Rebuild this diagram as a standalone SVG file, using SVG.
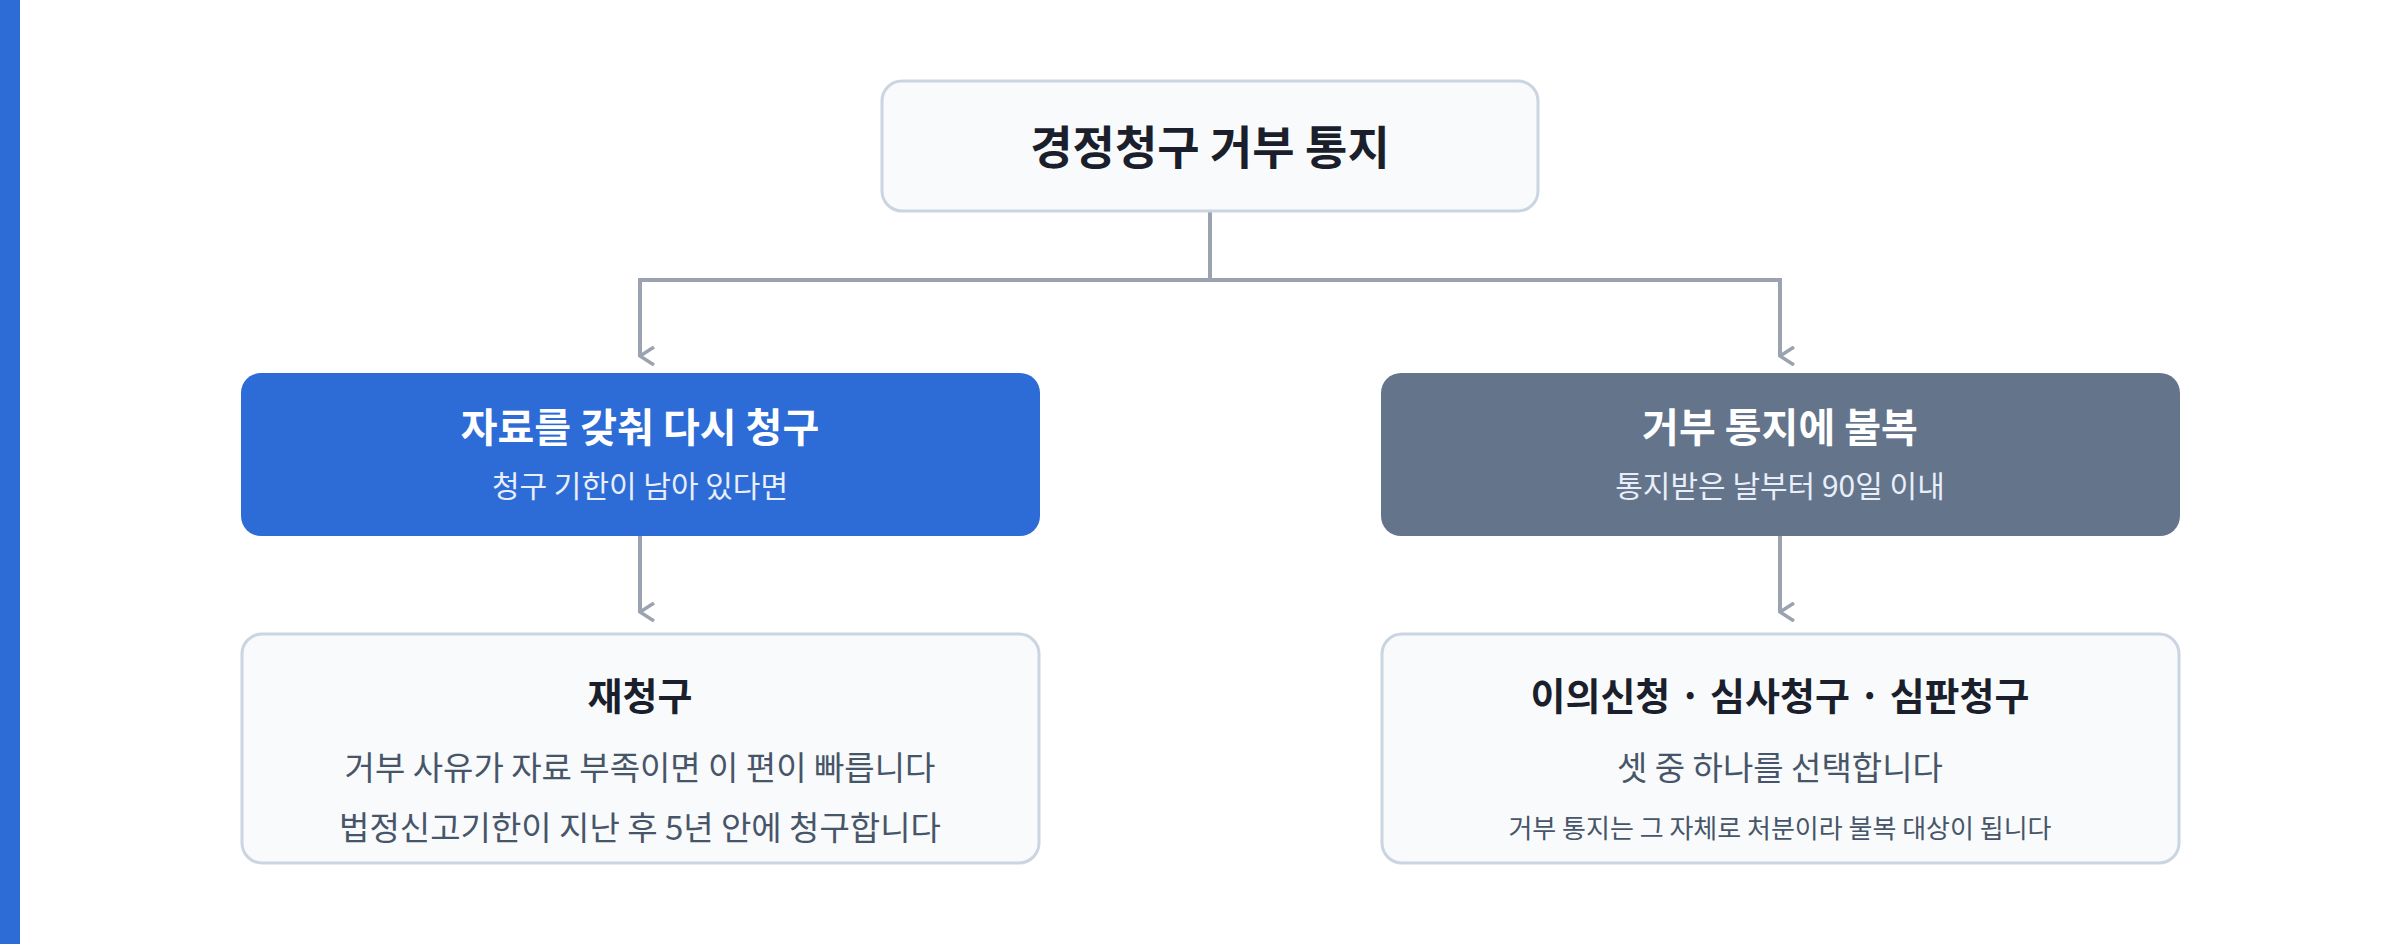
<svg xmlns="http://www.w3.org/2000/svg" width="2400" height="944" viewBox="0 0 2400 944">
<defs>
<style>
text{font-family:"Noto Sans CJK KR","Noto Sans",sans-serif;text-anchor:middle}
.light{fill:#f8fafc;stroke:#cbd5e1;stroke-width:3}
.t{font-weight:700;fill:#1a1f2b}
.w{font-weight:700;fill:#ffffff}
.ws{fill:#e8eefa;font-size:30px}
.b{fill:#475569}
.c{fill:none;stroke:#9aa3af;stroke-width:4}
</style>
<marker id="ah" viewBox="0 0 20 20" refX="10" refY="18" markerWidth="20" markerHeight="20" markerUnits="userSpaceOnUse" orient="auto-start-reverse">
<path d="M1 4 L10 18 L19 4" fill="none" stroke="#9aa3af" stroke-width="3.5"/>
</marker>
</defs>
<rect width="2400" height="944" fill="#ffffff"/>
<rect x="0" y="0" width="20" height="944" fill="#2d6cd6"/>
<g id="connectors">
<path class="c" d="M1210 211 V280"/>
<path class="c" d="M640 356 V280 H1780 V356" marker-end="url(#ah)"/>
<path class="c" d="M640 290 V356" marker-end="url(#ah)"/>
<path class="c" d="M640 536 V612" marker-end="url(#ah)"/>
<path class="c" d="M1780 536 V612" marker-end="url(#ah)"/>
</g>
<g id="top">
<rect class="light" x="882" y="81" width="656" height="130" rx="20"/>
<text class="t" x="1210" y="164" font-size="46">경정청구 거부 통지</text>
</g>
<g id="left-mid">
<rect x="241" y="373" width="799" height="163" rx="20" fill="#2d6cd6"/>
<text class="w" x="640" y="442" font-size="40">자료를 갖춰 다시 청구</text>
<text class="ws" x="640" y="497">청구 기한이 남아 있다면</text>
</g>
<g id="right-mid">
<rect x="1381" y="373" width="799" height="163" rx="20" fill="#64748b"/>
<text class="w" x="1780" y="442" font-size="40">거부 통지에 불복</text>
<text class="ws" x="1780" y="497">통지받은 날부터 90일 이내</text>
</g>
<g id="left-bottom">
<rect class="light" x="242" y="634" width="797" height="229" rx="20"/>
<text class="t" x="640" y="710" font-size="38">재청구</text>
<text class="b" x="640" y="780" font-size="33">거부 사유가 자료 부족이면 이 편이 빠릅니다</text>
<text class="b" x="640" y="840" font-size="33">법정신고기한이 지난 후 5년 안에 청구합니다</text>
</g>
<g id="right-bottom">
<rect class="light" x="1382" y="634" width="797" height="229" rx="20"/>
<text class="t" x="1780" y="710" font-size="38">이의신청 · 심사청구 · 심판청구</text>
<text class="b" x="1780" y="780" font-size="33">셋 중 하나를 선택합니다</text>
<text class="b" x="1780" y="838" font-size="26">거부 통지는 그 자체로 처분이라 불복 대상이 됩니다</text>
</g>
</svg>
